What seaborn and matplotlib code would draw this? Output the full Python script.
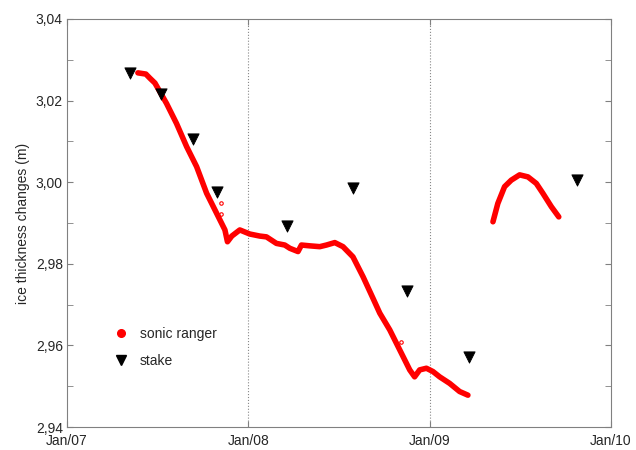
import seaborn as sns
import pandas as pd
import numpy as np
import matplotlib.pyplot as plt
from matplotlib.ticker import FuncFormatter, MultipleLocator
from matplotlib.lines import Line2D

# sonic ranger record (decimal year, m), two segments
ranger_t1 = [2007.391, 2007.435, 2007.457, 2007.485, 2007.512, 2007.549, 2007.604, 2007.660,
             2007.715, 2007.770, 2007.825, 2007.871, 2007.885, 2007.909, 2007.953, 2008.008,
             2008.063, 2008.100, 2008.155, 2008.201, 2008.229, 2008.274, 2008.293, 2008.339,
             2008.394, 2008.431, 2008.477, 2008.522, 2008.577, 2008.633, 2008.688, 2008.725,
             2008.780, 2008.835, 2008.890, 2008.917, 2008.945, 2008.982, 2009.018, 2009.055,
             2009.110, 2009.165, 2009.211]
ranger_v1 = [3.0268, 3.0265, 3.0255, 3.0243, 3.0222, 3.0193, 3.0144, 3.0087,
             3.0038, 2.9973, 2.9924, 2.9883, 2.9854, 2.9868, 2.9883, 2.9873,
             2.9868, 2.9866, 2.9850, 2.9846, 2.9838, 2.9830, 2.9846, 2.9844,
             2.9842, 2.9846, 2.9852, 2.9842, 2.9817, 2.9768, 2.9715, 2.9679,
             2.9638, 2.9589, 2.9540, 2.9523, 2.9540, 2.9544, 2.9536, 2.9523,
             2.9507, 2.9487, 2.9478]
ranger_t2 = [2009.349, 2009.376, 2009.413, 2009.450, 2009.496, 2009.542, 2009.588,
             2009.624, 2009.671, 2009.712]
ranger_v2 = [2.9903, 2.9948, 2.9989, 3.0005, 3.0018, 3.0013, 2.9997,
             2.9973, 2.9940, 2.9915]
# a few stray readings
stray_t = [2007.852, 2007.852, 2008.844]
stray_v = [2.9948, 2.9922, 2.9609]

# stake readings
stake_t = [2007.347, 2007.518, 2007.694, 2007.826, 2008.212, 2008.576, 2008.873, 2009.215, 2009.810]
stake_v = [3.0268, 3.0216, 3.0106, 2.9976, 2.9893, 2.9986, 2.9733, 2.9572, 3.0005]

xticks = [2007, 2008, 2009, 2010]
xticklabels = ['Jan/07', 'Jan/08', 'Jan/09', 'Jan/10']

ranger = pd.DataFrame({
    't': ranger_t1 + ranger_t2,
    'v': ranger_v1 + ranger_v2,
    'seg': [1] * len(ranger_t1) + [2] * len(ranger_t2),
})
stake = pd.DataFrame({'t': stake_t, 'v': stake_v})

sns.set_style('white')
plt.rcParams['font.family'] = ['Liberation Sans', 'DejaVu Sans']

fig = plt.figure(figsize=(6.36, 4.5), dpi=100)
ax = fig.add_axes([0.1053, 0.0511, 0.8554, 0.9067])

for x in [2008, 2009]:
    ax.axvline(x, color='#888888', ls=':', lw=0.8, zorder=0)

sns.lineplot(data=ranger, x='t', y='v', units='seg', estimator=None, color='red',
             lw=4, solid_capstyle='round', ax=ax, legend=False)
ax.plot(stray_t, stray_v, 'o', mfc='none', mec='red', ms=2.5, mew=0.8)
sns.scatterplot(data=stake, x='t', y='v', marker='v', color='black', s=65,
                edgecolor='black', ax=ax, legend=False, zorder=3)

ax.set_xlim(2007, 2010)
ax.set_ylim(2.94, 3.04)
ax.set_xticks(xticks)
ax.set_xticklabels(xticklabels)
ax.yaxis.set_major_locator(MultipleLocator(0.02))
ax.yaxis.set_minor_locator(MultipleLocator(0.01))
ax.yaxis.set_major_formatter(FuncFormatter(lambda v, p: f'{v:.2f}'.replace('.', ',')))
ax.set_xlabel('')
ax.set_ylabel('ice thickness changes (m)', fontsize=10, labelpad=4)

for s in ax.spines.values():
    s.set_color('#808080')
    s.set_linewidth(0.8)
ax.tick_params(which='both', direction='in', color='#808080', labelsize=10,
               top=True, right=True, left=True, bottom=True)
ax.tick_params(which='major', length=4, pad=3)
ax.tick_params(which='minor', length=4)
ax.tick_params(axis='x', pad=5)

handles = [
    Line2D([], [], marker='o', color='red', ls='none', ms=5.5),
    Line2D([], [], marker='v', color='black', ls='none', ms=7.5),
]
ax.legend(handles, ['sonic ranger', 'stake'], loc='upper left',
          bbox_to_anchor=(0.05, 0.275), frameon=False, fontsize=10,
          handletextpad=0.4, labelspacing=0.9)

fig.savefig('out.png', dpi=100)
